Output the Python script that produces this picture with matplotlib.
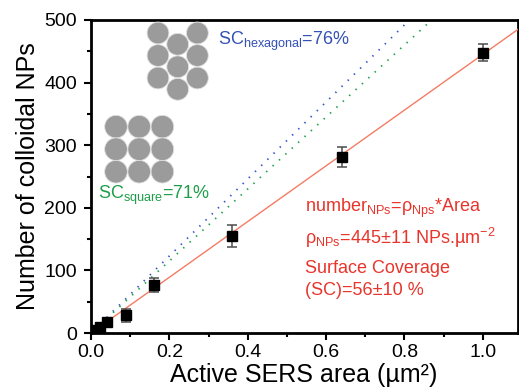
import numpy as np
import matplotlib
matplotlib.use("Agg")
import matplotlib.pyplot as plt
from matplotlib.patches import Circle
from matplotlib.ticker import MultipleLocator

plt.rcParams['font.family'] = ['Liberation Sans', 'DejaVu Sans']
plt.rcParams['mathtext.fontset'] = 'custom'
plt.rcParams['mathtext.rm'] = 'Liberation Sans'
plt.rcParams['mathtext.it'] = 'Liberation Sans:italic'
plt.rcParams['mathtext.default'] = 'regular'

# ---- data ----
area = [0.01, 0.0225, 0.04, 0.09, 0.16, 0.36, 0.64, 1.0]
n_nps = [4, 10, 18, 28, 77, 155, 281, 448]
n_err = [2, 3, 4, 11, 11, 18, 16, 13]
rho_fit = 445      # NPs per µm², measured (SC = 56 %)
rho_hex = 615      # hexagonal packing reference (SC = 76 %)
rho_square = 575   # square packing reference (SC = 71 %)
ref_start = 0.04   # area where the packing reference lines begin
xticks = [0.0, 0.2, 0.4, 0.6, 0.8, 1.0]
yticks = [0, 100, 200, 300, 400, 500]

W, H = 519, 391
fig = plt.figure(figsize=(W / 100, H / 100), dpi=100)
ax = fig.add_axes([91 / W, 1 - 333 / H, 427 / W, 313 / H])

xmax = 1.09
xl = np.array([0, xmax])
xr = np.array([ref_start, xmax])
ax.plot(xr, rho_hex * xr, color='#3a56c8', lw=1.3, ls=(0, (0.8, 4)), zorder=2)
ax.plot(xr, rho_square * xr, color='#22a050', lw=1.3, ls=(0, (0.8, 4)), zorder=2)
ax.plot(xl, rho_fit * xl, color='#f47c64', lw=1.0, zorder=3)
ax.errorbar(area, n_nps, yerr=n_err, fmt='s', color='black', ms=6.5,
            ecolor='#4d4d4d', elinewidth=1.1, capsize=3.5, capthick=1.1, zorder=4)

ax.set_xlim(0, xmax)
ax.set_ylim(0, 500)
ax.set_xticks(xticks)
ax.set_xticklabels([f"{v:.1f}" for v in xticks])
ax.set_yticks(yticks)
ax.xaxis.set_minor_locator(MultipleLocator(0.1))
ax.yaxis.set_minor_locator(MultipleLocator(50))
for s in ax.spines.values():
    s.set_linewidth(2.0)
ax.tick_params(which='major', direction='out', length=5, width=1.5, labelsize=14)
ax.tick_params(which='minor', direction='out', length=3, width=1.5)
ax.tick_params(axis='x', which='major', pad=3)
ax.tick_params(axis='y', which='major', pad=5)
ax.tick_params(top=False, right=False, which='both')

ax.set_xlabel('Active SERS area (µm²)', fontsize=18)
ax.set_ylabel('Number of colloidal NPs', fontsize=18)
ax.xaxis.set_label_coords(0.497, -0.095)
ax.yaxis.set_label_coords(-0.12, 0.5)

# overlay in pixel coordinates for sketches and annotations
ov = fig.add_axes([0, 0, 1, 1])
ov.set_xlim(0, W)
ov.set_ylim(H, 0)
ov.axis('off')
ov.patch.set_alpha(0)

r = 10.9
gray = '#9b9b9b'
for cx, ys in [(158, [33, 55.5, 78]), (177.7, [44.3, 66.8, 89.3]), (197.4, [33, 55.5, 78])]:
    for cy in ys:
        ov.add_patch(Circle((cx, cy), r, fc=gray, ec='#e0e0e0', lw=0.6))
for cx in [116, 139.2, 162.4]:
    for cy in [126.7, 149.2, 171.7]:
        ov.add_patch(Circle((cx, cy), r * 1.04, fc=gray, ec='#e0e0e0', lw=0.6))

ov.text(218, 45, 'SC$_{hexagonal}$=76%', color='#3452b4', fontsize=13, va='baseline')
ov.text(98, 199, 'SC$_{square}$=71%', color='#1e9e4a', fontsize=13, va='baseline')
red = '#e8352b'
ov.text(305, 212, 'number$_{NPs}$=ρ$_{Nps}$*Area', color=red, fontsize=13, va='baseline')
ov.text(305, 244, 'ρ$_{NPs}$=445±11 NPs.µm$^{-2}$', color=red, fontsize=13, va='baseline')
ov.text(305, 273, 'Surface Coverage', color=red, fontsize=13, va='baseline')
ov.text(305, 295, '(SC)=56±10 %', color=red, fontsize=13, va='baseline')

fig.savefig('out.png', dpi=100)
